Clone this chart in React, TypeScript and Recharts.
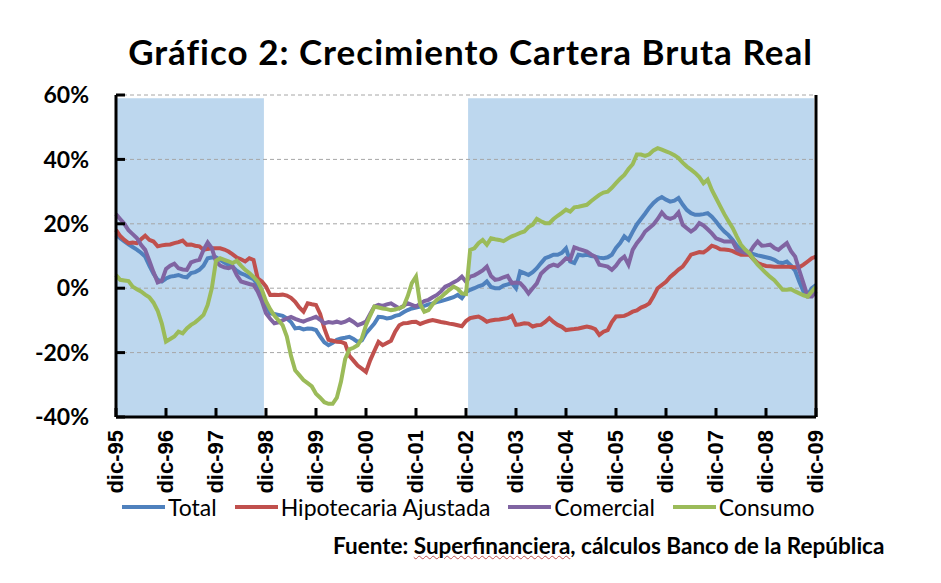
import React from "react";
import {
  ComposedChart,
  Line,
  XAxis,
  YAxis,
  ReferenceArea,
  ReferenceLine,
} from "recharts";

// monthly series, dic-95 .. dic-09 (169 months), real growth in %
const monthNames = ["ene", "feb", "mar", "abr", "may", "jun", "jul", "ago", "sep", "oct", "nov", "dic"];

const yearTicks = [
  "dic-95", "dic-96", "dic-97", "dic-98", "dic-99", "dic-00", "dic-01", "dic-02",
  "dic-03", "dic-04", "dic-05", "dic-06", "dic-07", "dic-08", "dic-09",
];

const total = [
  16.6, 15.5, 14.5, 13.6, 12.8, 12.0, 11.0, 9.8, 7.0, 4.5, 2.6, 2.1,
  3.0, 3.6, 3.8, 4.1, 3.6, 3.4, 4.7, 5.0, 5.7, 7.0, 9.3, 9.5,
  9.6, 8.8, 8.0, 7.3, 6.7, 5.4, 4.6, 4.1, 3.4, 2.8, 1.0, -1.6,
  -5.0, -7.8, -8.0, -8.3, -8.6, -9.4, -10.5, -12.5, -12.3, -12.8, -12.5, -12.6,
  -13.0, -15.0, -16.8, -17.7, -17.0, -16.0, -15.6, -15.4, -15.1, -15.8, -16.7, -16.2,
  -14.0, -12.5, -11.0, -8.9, -9.0, -9.4, -9.2, -8.6, -8.3, -7.5, -6.8, -6.3,
  -6.0, -5.7, -5.5, -5.0, -4.7, -4.3, -4.0, -3.6, -3.2, -2.8, -2.1, -3.1,
  -1.2, -0.5, 0, 0.6, 1.0, 2.1, 0.4, 0, 0, 0.8, 1.2, 1.6,
  0, 5.2, 4.7, 4.1, 5.0, 6.2, 7.8, 9.3, 9.8, 10.4, 10.4, 11.0,
  12.4, 8.3, 7.8, 10.4, 10.2, 10.4, 10.0, 9.8, 9.5, 9.3, 9.6, 10.4,
  12.5, 14.0, 16.1, 15.0, 17.5, 19.8, 21.5, 23.2, 25.0, 26.5, 27.6, 28.3,
  27.5, 26.9, 27.2, 28.0, 26.0, 24.3, 23.3, 22.8, 22.8, 23.0, 23.3, 22.2,
  20.7, 19.0, 17.6, 16.5, 15.0, 13.2, 12.2, 11.4, 11.0, 10.6, 10.2, 9.9,
  9.6, 9.3, 8.8, 8.0, 7.8, 8.3, 7.0, 5.4, 2.0, -1.0, -2.1, 0,
  1.0,
];

const hipotecaria = [
  18.1, 16.2, 15.0, 14.0, 14.2, 14.0, 15.2, 16.3, 15.0, 14.5, 13.0, 13.3,
  13.5, 13.6, 14.0, 14.3, 14.8, 13.5, 13.6, 13.2, 13.0, 11.9, 12.2, 12.4,
  12.4, 12.4, 12.0, 11.4, 10.5, 9.5, 9.0, 8.3, 9.3, 8.8, 3.1, 2.1,
  0.5, -2.1, -2.0, -2.1, -2.0, -2.3, -3.0, -4.2, -6.0, -7.3, -4.7, -5.0,
  -5.2, -8.0, -12.5, -16.0, -16.3, -16.6, -16.7, -17.2, -21.0, -22.5, -24.0, -25.0,
  -26.0, -22.4, -19.5, -16.7, -17.7, -17.0, -16.3, -13.5, -11.5, -10.9, -10.8, -10.5,
  -10.4, -11.1, -10.6, -10.2, -9.9, -10.2, -10.5, -10.7, -11.0, -11.2, -11.5, -11.8,
  -10.2, -9.3, -9.0, -8.8, -9.5, -10.4, -10.0, -9.8, -9.7, -9.5, -9.3, -8.6,
  -11.4, -11.2, -10.9, -11.0, -11.9, -11.5, -11.4, -10.5, -9.3, -10.5, -11.4, -12.0,
  -13.0, -12.8, -12.7, -12.5, -12.2, -11.9, -12.2, -12.7, -14.5, -13.5, -13.0, -10.5,
  -8.8, -8.7, -8.6, -8.0, -7.3, -6.9, -6.0, -5.5, -4.7, -2.5, 0, 1.0,
  2.0, 3.5, 4.6, 5.8, 6.7, 8.5, 10.4, 10.8, 11.2, 11.1, 12.0, 13.2,
  12.8, 12.1, 12.0, 11.9, 11.5, 10.9, 10.4, 10.4, 10.4, 9.0, 7.8, 7.3,
  6.9, 6.8, 6.7, 6.7, 6.7, 6.7, 6.6, 6.5, 6.5, 7.3, 8.3, 9.3,
  9.8,
];

const comercial = [
  23.0, 21.5, 20.0, 18.0, 16.8, 15.6, 13.5, 11.9, 8.5, 5.0, 1.8, 2.3,
  6.0, 7.0, 7.6, 6.2, 5.8, 5.7, 8.0, 8.5, 8.8, 11.9, 14.2, 12.4,
  8.3, 7.0, 6.5, 6.2, 6.7, 4.0, 2.1, 1.7, 1.3, 1.0, -1.0, -4.0,
  -7.8, -9.5, -10.9, -10.6, -10.0, -9.4, -8.9, -9.5, -10.0, -10.4, -9.8, -9.4,
  -8.9, -9.8, -10.9, -10.5, -10.7, -10.4, -10.8, -10.4, -9.7, -10.5, -11.5, -11.0,
  -10.4, -8.0, -5.7, -5.2, -5.5, -5.0, -4.7, -5.5, -6.3, -5.5, -4.7, -5.2,
  -5.7, -4.8, -4.0, -3.6, -2.8, -2.1, -1.0, 0.5, 1.0, 1.8, 2.5, 3.6,
  2.0, 3.6, 4.0, 4.7, 5.5, 6.7, 3.8, 2.6, 2.8, 3.4, 3.8, 1.6,
  1.8, 1.6, 0.2, -1.6, 0, 1.5, 4.5, 5.7, 6.8, 7.3, 6.9, 8.0,
  9.3, 8.8, 12.7, 12.2, 11.8, 11.4, 10.5, 9.8, 7.3, 7.0, 6.7, 5.7,
  7.0, 8.8, 9.8, 7.3, 11.9, 14.0, 15.6, 17.6, 18.7, 19.8, 21.5, 23.5,
  22.0, 21.5, 22.0, 23.5, 19.7, 18.6, 17.6, 18.5, 20.2, 19.5, 18.3, 17.0,
  15.5, 15.0, 14.5, 14.5, 14.5, 12.0, 11.4, 11.0, 10.9, 13.0, 14.5, 13.2,
  13.3, 13.5, 12.5, 11.9, 13.0, 14.0, 11.5, 9.8, 5.5, 1.5, -2.6, -2.6,
  -1.0,
];

const consumo = [
  4.1, 2.6, 2.4, 2.2, 0.5, -0.3, -1.0, -2.0, -2.8, -4.5, -7.0, -11.0,
  -16.6, -15.8, -15.0, -13.5, -14.0, -12.5, -11.4, -10.6, -9.5, -8.3, -5.2, 0,
  8.5, 9.3, 8.8, 8.3, 7.8, 8.5, 7.0, 5.7, 4.7, 3.5, 2.1, -0.5,
  -4.0, -6.5, -8.5, -10.0, -11.5, -15.0, -21.0, -25.5, -27.0, -28.5, -29.5, -30.5,
  -32.8, -34.0, -35.4, -35.9, -35.9, -34.0, -29.0, -22.0, -19.0, -18.5, -17.7, -15.6,
  -11.5, -8.5, -5.7, -6.0, -6.3, -6.5, -6.8, -6.6, -6.2, -5.7, -2.5, 1.6,
  3.6, -5.0, -7.3, -6.8, -5.0, -3.6, -2.8, -1.6, -0.5, 0.5, -0.2, -1.6,
  -1.8, 11.9, 12.4, 14.0, 15.0, 13.5, 15.5, 15.2, 15.0, 14.6, 15.4, 16.1,
  16.6, 17.2, 17.6, 19.0, 19.7, 21.5, 20.8, 20.2, 20.2, 21.5, 22.5, 23.4,
  24.4, 23.8, 25.1, 25.3, 25.6, 25.9, 27.0, 28.0, 29.0, 29.7, 30.0, 31.2,
  32.6, 34.0, 35.2, 37.0, 38.5, 41.5, 41.5, 41.1, 41.6, 42.8, 43.5, 43.0,
  42.5, 42.0, 41.3, 40.4, 39.0, 37.8, 36.8, 35.8, 34.5, 32.6, 33.7, 30.5,
  28.0, 25.5, 23.0, 20.8, 18.7, 16.0, 13.5, 12.0, 10.9, 9.0, 7.3, 6.0,
  4.7, 3.5, 2.5, 1.0, -0.5, -0.5, -0.3, -1.0, -1.6, -2.2, -2.6, -1.0,
  0.5,
];

// shaded months (index into the monthly series)
const shadePeriods = [
  { from: 0, to: 35 },
  { from: 85, to: 167 },
];
const shadeTop = 59;

const yTicks = [-40, -20, 0, 20, 40, 60];
const gridLevels = [60, 40, 20, 0, -20];

const series = [
  { key: "total", name: "Total", color: "#4F81BD" },
  { key: "hipotecaria", name: "Hipotecaria Ajustada", color: "#C0504D" },
  { key: "comercial", name: "Comercial", color: "#8064A2" },
  { key: "consumo", name: "Consumo", color: "#9BBB59" },
];

const data = total.map((v, i) => ({
  month: i,
  label: `${monthNames[(11 + i) % 12]}-${String((95 + Math.floor((i + 11) / 12)) % 100).padStart(2, "0")}`,
  total: v,
  hipotecaria: hipotecaria[i],
  comercial: comercial[i],
  consumo: consumo[i],
}));

const lastMonth = data.length - 1;
const font = "Lato, 'Open Sans', sans-serif";

const XTick = (props: any) => {
  const { x, y, payload } = props;
  return (
    <text
      x={x}
      y={y}
      dy="0.3em"
      transform={`rotate(-90, ${x}, ${y})`}
      textAnchor="end"
      fontFamily="'Liberation Sans', Arial, sans-serif"
      fontWeight="bold"
      fontSize={22}
      fill="#000"
    >
      {yearTicks[Math.round(payload.value / 12)]}
    </text>
  );
};

const axisTick = { fontFamily: font, fontWeight: 700, fontSize: 23, fill: "#000" };

export default function App() {
  return (
    <div style={{ position: "relative", width: 925, height: 567, background: "#fff" }}>
      <div
        style={{
          position: "absolute",
          left: 0,
          top: 22,
          width: 925,
          textAlign: "center",
          fontFamily: font,
          fontWeight: 700,
          fontSize: 35,
          letterSpacing: 1,
          lineHeight: 1.2,
          color: "#000",
        }}
      >
        Gráfico 2: Crecimiento Cartera Bruta Real
      </div>

      <ComposedChart
        width={925}
        height={500}
        data={data}
        margin={{ top: 87, right: 0, bottom: 0, left: 0 }}
      >
        {shadePeriods.map((p, i) => (
          <ReferenceArea
            key={`shade-${i}`}
            yAxisId="left"
            x1={Math.max(0, p.from - 0.5)}
            x2={Math.min(lastMonth, p.to + 0.5)}
            y1={-40}
            y2={shadeTop}
            fill="#BDD7EE"
            fillOpacity={1}
            stroke="none"
          />
        ))}
        {gridLevels.map((g) => (
          <ReferenceLine
            key={`grid-${g}`}
            yAxisId="left"
            y={g}
            stroke="#A6A6A6"
            strokeWidth={1}
            strokeDasharray="4 3"
          />
        ))}
        <XAxis
          dataKey="month"
          type="number"
          domain={[0, lastMonth]}
          ticks={yearTicks.map((_, i) => i * 12)}
          interval={0}
          height={91}
          tickSize={-9}
          tickMargin={22}
          axisLine={{ stroke: "#000", strokeWidth: 3 }}
          tickLine={{ stroke: "#000", strokeWidth: 3 }}
          tick={<XTick />}
        />
        <YAxis
          yAxisId="left"
          orientation="left"
          width={108}
          domain={[-40, 60]}
          ticks={yTicks}
          interval={0}
          tickSize={-9}
          tickMargin={36}
          tickFormatter={(v) => `${v}%`}
          axisLine={{ stroke: "#000", strokeWidth: 3 }}
          tickLine={{ stroke: "#000", strokeWidth: 3 }}
          tick={axisTick}
        />
        <YAxis
          yAxisId="right"
          orientation="right"
          width={117}
          domain={[-40, 60]}
          ticks={yTicks}
          interval={0}
          tickSize={-9}
          tickMargin={39}
          tickFormatter={(v) => `${v}%`}
          axisLine={{ stroke: "#000", strokeWidth: 3 }}
          tickLine={{ stroke: "#000", strokeWidth: 3 }}
          tick={axisTick}
        />
        {series.map((s) => (
          <Line
            key={s.key}
            yAxisId="left"
            type="linear"
            dataKey={s.key}
            name={s.name}
            stroke={s.color}
            strokeWidth={4}
            dot={false}
            activeDot={false}
            isAnimationActive={false}
          />
        ))}
      </ComposedChart>

      <div
        style={{
          position: "absolute",
          left: 114,
          top: 486,
          display: "flex",
          alignItems: "center",
          fontFamily: font,
          fontSize: 23,
          lineHeight: "26px",
          color: "#000",
        }}
      >
        {series.map((s) => (
          <div key={s.key} style={{ display: "flex", alignItems: "center", marginRight: 18 }}>
            <span style={{ display: "inline-block", width: 43, height: 4, background: s.color, marginRight: 3 }} />
            <span>{s.name}</span>
          </div>
        ))}
      </div>

      <div
        style={{
          position: "absolute",
          left: 325,
          top: 525,
          fontFamily: font,
          fontWeight: 700,
          fontSize: 22.5,
          lineHeight: "26px",
          color: "#000",
          whiteSpace: "nowrap",
        }}
      >
        Fuente:{" "}
        <span style={{ textDecoration: "underline wavy #C0504D", textDecorationThickness: 1 }}>
          Superfinanciera
        </span>
        , cálculos Banco de la República
      </div>
    </div>
  );
}
